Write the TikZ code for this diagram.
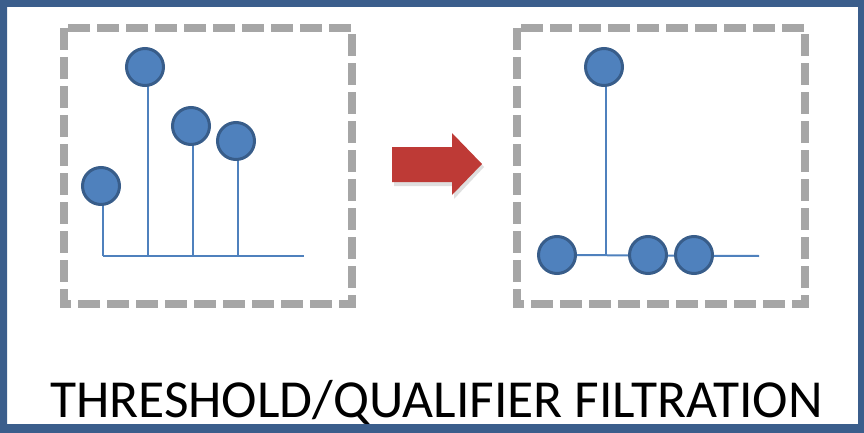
\documentclass[tikz,border=0pt]{standalone}
\usepackage{fontspec}
\setmainfont{Carlito}
\definecolor{frameblue}{HTML}{3B5E8C}
\definecolor{dotfill}{HTML}{4F81BD}
\definecolor{dotedge}{HTML}{385D8A}
\definecolor{boxgray}{HTML}{A6A6A6}
\definecolor{arrowred}{HTML}{BE3A36}
\begin{document}
\begin{tikzpicture}[x=1pt,y=-1pt,
  dot/.style={circle,fill=dotfill,draw=dotedge,line width=3pt,minimum size=37pt,inner sep=0pt},
  stem/.style={draw=dotfill,line width=2pt},
  dashbox/.style={draw=boxgray,line width=8pt,dash pattern=on 22pt off 7pt},
  frame/.style={fill=frameblue,even odd rule}]
\useasboundingbox (0,0) rectangle (864,433);
\fill[frame] (0,0) rectangle (864,433) (7,7) rectangle (858,424);
% dashed boxes
\draw[dashbox] (64,28) rectangle (352,304);
\draw[dashbox] (517,28) rectangle (805,304);
% left plot
\coordinate (lb0) at (103,256);
\coordinate (lb1) at (148,256);
\coordinate (lb2) at (193,256);
\coordinate (lb3) at (238,256);
\coordinate (lbe) at (304,256);
\draw[stem] (lb0) -- (lbe);
\draw[stem] (lb0) -- (103,186);
\draw[stem] (lb1) -- (148,67);
\draw[stem] (lb2) -- (193,126);
\draw[stem] (lb3) -- (238,141);
\node[dot] (l1) at (101,186) {};
\node[dot] (l2) at (145,67) {};
\node[dot] (l3) at (191,126) {};
\node[dot] (l4) at (236,141) {};
% right plot
\coordinate (rbs) at (606,256);
\coordinate (rbe) at (759,256);
\node[dot] (r1) at (557,255) {};
\draw[stem] (r1) -- (rbe);
\draw[stem] (rbs) -- (606,67);
\node[dot] (r2) at (604,67) {};
\node[dot] (r3) at (648,255) {};
\node[dot] (r4) at (694,255) {};
% arrow
\fill[black!25,opacity=0.5] (394,150) -- (454,150) -- (454,137) -- (484,167) -- (454,199) -- (454,186) -- (394,186) -- cycle;
\fill[arrowred] (392,147) -- (452,147) -- (452,133) -- (482,164) -- (452,195) -- (452,182) -- (392,182) -- cycle;
% title
\node[font=\fontsize{53.5}{56}\selectfont,inner sep=0pt,anchor=base] (title) at (436.5,417) {THRESHOLD/QUALIFIER FILTRATION};
\end{tikzpicture}
\end{document}
